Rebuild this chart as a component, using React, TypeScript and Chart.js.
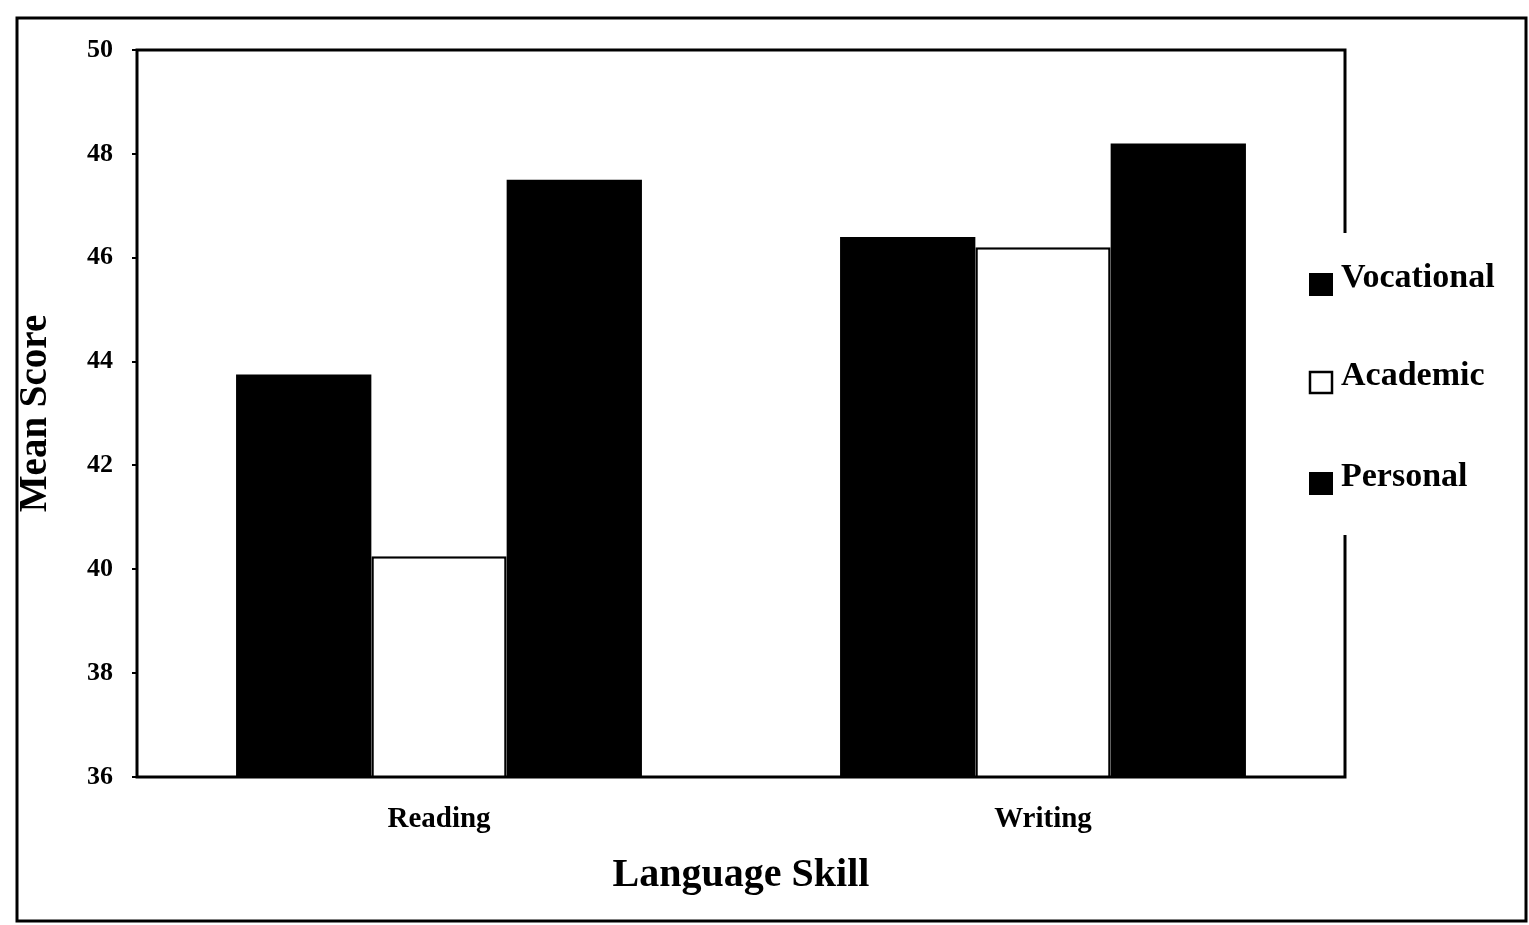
import React, { useEffect, useRef } from "react";
import { Chart, registerables } from "chart.js";

Chart.register(...registerables);

const categories = ["Reading", "Writing"];
const seriesNames = ["Vocational", "Academic", "Personal"];
const vocational = [43.75, 46.4];
const academic = [40.25, 46.2];
const personal = [47.5, 48.2];
const yTicks = [36, 38, 40, 42, 44, 46, 48, 50];

const FONT = "'Liberation Serif', 'Times New Roman', serif";

const framePlugin = {
  id: "framePlugin",
  afterDraw(chart: any) {
    const ctx = chart.ctx;
    const a = chart.chartArea;
    ctx.save();
    // outer frame
    ctx.strokeStyle = "#000";
    ctx.lineWidth = 3;
    ctx.strokeRect(17, 18, 1509, 903);
    // plot border
    ctx.lineWidth = 3;
    ctx.strokeRect(a.left, a.top, a.right - a.left, a.bottom - a.top);
    // legend box (white, covering plot border)
    ctx.fillStyle = "#fff";
    ctx.fillRect(1296, 233, 216, 302);
    const ys = [283, 381, 482];
    chart.data.datasets.forEach((ds: any, i: number) => {
      const y = ys[i];
      const filled = ds.backgroundColor !== "#ffffff";
      if (filled) {
        ctx.fillStyle = "#000";
        ctx.fillRect(1309, y - 10, 24, 23);
      } else {
        ctx.fillStyle = "#fff";
        ctx.fillRect(1310, y - 9, 22, 21);
        ctx.lineWidth = 2.5;
        ctx.strokeStyle = "#000";
        ctx.strokeRect(1310, y - 9, 22, 21);
      }
      ctx.fillStyle = "#000";
      ctx.font = `bold 34px ${FONT}`;
      ctx.textBaseline = "middle";
      ctx.textAlign = "left";
      ctx.fillText(ds.label, 1341, y - 5);
    });
    ctx.restore();
  },
};

export default function App() {
  const ref = useRef<HTMLCanvasElement | null>(null);
  useEffect(() => {
    document.body.style.margin = "0";
    const canvas = ref.current;
    if (!canvas) return;
    const chart = new Chart(canvas, {
      type: "bar",
      data: {
        labels: categories,
        datasets: [
          {
            label: seriesNames[0],
            data: vocational,
            backgroundColor: "#000000",
            borderColor: "#000000",
            borderWidth: 0,
          },
          {
            label: seriesNames[1],
            data: academic,
            backgroundColor: "#ffffff",
            borderColor: "#000000",
            borderWidth: 2.5,
          },
          {
            label: seriesNames[2],
            data: personal,
            backgroundColor: "#000000",
            borderColor: "#000000",
            borderWidth: 0,
          },
        ],
      },
      options: {
        responsive: false,
        animation: false,
        devicePixelRatio: 1,
        layout: { padding: { top: 50, right: 184, bottom: 0, left: 0 } },
        datasets: {
          bar: { categoryPercentage: 0.672, barPercentage: 1.0 },
        },
        plugins: {
          legend: { display: false },
          tooltip: { enabled: false },
          title: { display: false },
        },
        scales: {
          x: {
            grid: { display: false, drawTicks: false },
            border: { display: false },
            ticks: {
              color: "#000",
              padding: 25,
              font: { family: FONT, size: 29, weight: "bold" },
            },
            title: {
              display: true,
              text: "Language Skill",
              color: "#000",
              font: { family: FONT, size: 40, weight: "bold", lineHeight: 1.2 },
              padding: { top: 0, bottom: 25 },
            },
            afterFit: (scale: any) => {
              scale.height = 148;
            },
          },
          y: {
            min: 36,
            max: 50,
            afterBuildTicks: (scale: any) => {
              scale.ticks = yTicks.map((v) => ({ value: v }));
            },
            grid: {
              drawOnChartArea: false,
              drawTicks: true,
              tickLength: 5,
              color: "#000",
              lineWidth: 2,
            },
            border: { display: false },
            ticks: {
              color: "#000",
              padding: 19,
              font: { family: FONT, size: 26, weight: "bold" },
            },
            title: {
              display: true,
              text: "Mean Score",
              color: "#000",
              font: { family: FONT, size: 39, weight: "bold", lineHeight: 1.2 },
              padding: { top: 13, bottom: 0 },
            },
            afterFit: (scale: any) => {
              scale.width = 137;
            },
          },
        },
      },
      plugins: [framePlugin],
    });
    return () => chart.destroy();
  }, []);
  return (
    <div
      style={{
        position: "fixed",
        left: 0,
        top: 0,
        width: 1529,
        height: 925,
        background: "#fff",
      }}
    >
      <canvas ref={ref} width={1529} height={925} />
    </div>
  );
}
